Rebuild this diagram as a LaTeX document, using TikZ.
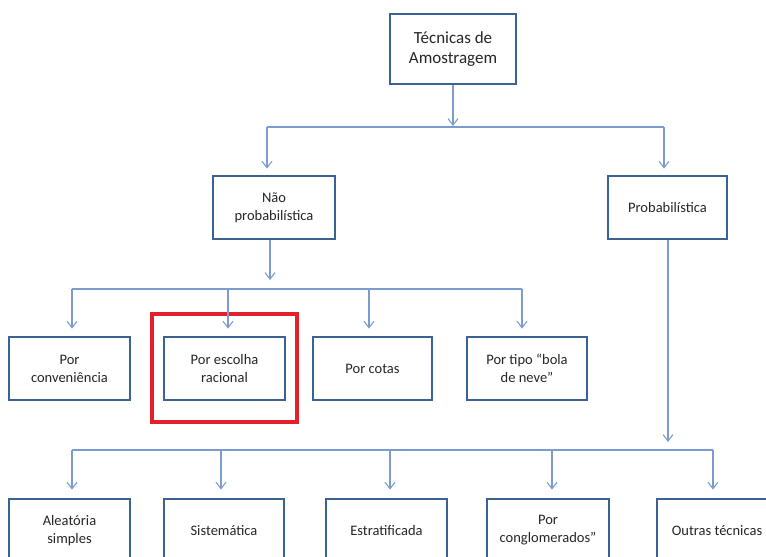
\documentclass[tikz,border=0pt]{standalone}
\usepackage{fontspec}
\setmainfont{Carlito}
\usetikzlibrary{arrows.meta}
\definecolor{boxblue}{HTML}{3B6293}
\definecolor{linkblue}{HTML}{7A9CCF}
\definecolor{hlred}{HTML}{E3212B}
\definecolor{txt}{HTML}{262626}
\tikzset{
  box/.style={draw=boxblue, line width=2.8pt, fill=white, minimum width=121pt, minimum height=63pt,
    align=center, inner sep=0pt, text=txt, font=\fontsize{14.5}{18}\selectfont},
  link/.style={draw=linkblue, line width=1.1pt},
  arr/.style={link, -{Straight Barb[length=6.5pt,width=10pt,line width=1.1pt]}},
}
\begin{document}
\begin{tikzpicture}[x=1pt,y=-1pt]
\useasboundingbox (0,0) rectangle (766,557);
\clip (0,0) rectangle (766,557);
% nodes
\node[box, minimum width=126pt, minimum height=70pt, font=\fontsize{17}{20}\selectfont] (top) at (453,49) {Técnicas de\\Amostragem};
\node[box, minimum width=122pt] (nao) at (274,207.5) {Não\\probabilística};
\node[box, minimum width=119pt] (prob) at (667.5,207.5) {Probabilística};
\node[box] (conv) at (69.5,368.5) {Por\\conveniência};
\node[box] (escolha) at (224.5,368.5) {Por escolha\\racional};
\node[box, minimum width=119pt] (cotas) at (372.5,368.5) {Por cotas};
\node[box, minimum width=120pt] (bola) at (527,368.5) {Por tipo “bola\\de neve”};
\node[box] (aleat) at (69.5,530.5) {Aleatória\\simples};
\node[box, minimum width=120pt] (sist) at (224,530.5) {Sistemática};
\node[box] (estrat) at (386.5,530.5) {Estratificada};
\node[box, minimum width=122pt] (cong) at (548,530.5) {Por\\conglomerados”};
\node[box, minimum width=120pt] (outras) at (717,530.5) {Outras técnicas};
% highlight
\node[draw=hlred, line width=4pt, minimum width=145pt, minimum height=108pt, inner sep=0pt] (hl) at (224,367.5) {};
% bus coordinates
\coordinate (b1) at (453,127);
\coordinate (b1l) at (267,127);
\coordinate (b1r) at (664,127);
\coordinate (b2) at (270,289);
\coordinate (b2a) at (72,289);
\coordinate (b2b) at (228,289);
\coordinate (b2c) at (369,289);
\coordinate (b2d) at (522,289);
\coordinate (b3) at (668,450);
\coordinate (b3a) at (72,450);
\coordinate (b3b) at (221,450);
\coordinate (b3c) at (390,450);
\coordinate (b3d) at (552,450);
\coordinate (b3e) at (713,450);
% connectors level 1
\draw[arr, shorten >=1pt] (top.south) -- (b1);
\draw[link] (b1l) -- (b1r);
\draw[arr, shorten >=6pt] (b1l) -- (b1l |- nao.north);
\draw[arr, shorten >=6pt] (b1r) -- (b1r |- prob.north);
% level 2
\draw[arr, shorten >=9pt] (b2 |- nao.south) -- (b2);
\draw[link] (b2a) -- (b2d);
\draw[arr, shorten >=7pt] (b2a) -- (b2a |- conv.north);
\draw[arr, shorten >=7pt] (b2b) -- (b2b |- escolha.north);
\draw[arr, shorten >=7pt] (b2c) -- (b2c |- cotas.north);
\draw[arr, shorten >=7pt] (b2d) -- (b2d |- bola.north);
% level 3
\draw[arr, shorten >=8pt] (b3 |- prob.south) -- (b3);
\draw[link] (b3a) -- (b3e);
\draw[arr, shorten >=8pt] (b3a) -- (b3a |- aleat.north);
\draw[arr, shorten >=8pt] (b3b) -- (b3b |- sist.north);
\draw[arr, shorten >=8pt] (b3c) -- (b3c |- estrat.north);
\draw[arr, shorten >=8pt] (b3d) -- (b3d |- cong.north);
\draw[arr, shorten >=8pt] (b3e) -- (b3e |- outras.north);
\end{tikzpicture}
\end{document}
